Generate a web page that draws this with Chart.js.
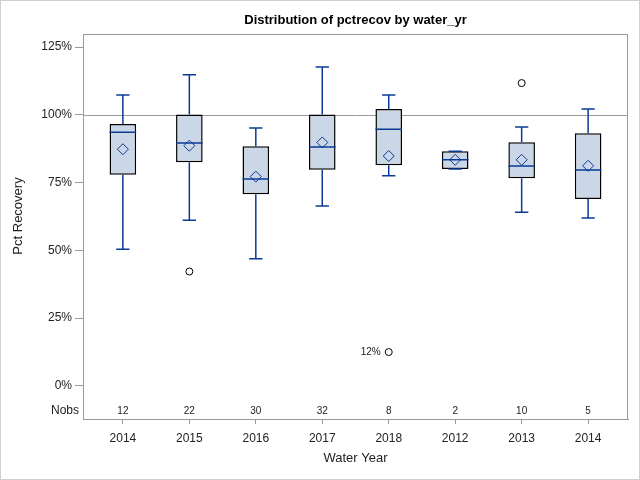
<!DOCTYPE html>
<html>
<head>
<meta charset="utf-8">
<script src="https://cdn.jsdelivr.net/npm/chart.js@4/dist/chart.umd.min.js"></script>
<style>
body { margin: 0; background: #fff; }
</style>
</head>
<body>
<canvas id="grafico" width="640" height="480"></canvas>
<script>
// valores (em %)
var anos = ['2014', '2015', '2016', '2017', '2018', '2012', '2013', '2014']
var nobs = [12, 22, 30, 32, 8, 2, 10, 5]
var minimos = [50.4, 61.1, 46.9, 66.4, 77.5, 80.0, 64.1, 61.9]
var q1 = [77.9, 82.5, 70.7, 79.7, 81.4, 80.0, 76.6, 68.9]
var medianas = [93.6, 89.6, 76.3, 88.1, 94.7, 83.4, 81.1, 79.6]
var q3 = [96.6, 100.1, 88.4, 100.1, 102.1, 86.6, 89.9, 93.2]
var maximos = [107.3, 114.8, 95.1, 117.6, 107.3, 86.6, 95.5, 102.1]
var medias = [87.3, 88.6, 77.2, 89.8, 84.8, 83.4, 83.4, 81.2]
var outliersX = [1, 4, 6]
var outliersY = [42.2, 12.5, 111.7]
var outliersTexto = ['', '12%', '']
var ticksY = [0, 25, 50, 75, 100, 125]
var linhaRef = 100

var azul = '#0b3a96'
var cinza = '#9a9a9a'
var fonte = '"Liberation Sans", Arial, sans-serif'

var caixas = []
var bigodes = []
var pontosMedia = []
var pontosOut = []

function montardados(){
    for (var i = 0; i < anos.length; i++) {
        caixas.push({x: i, y: [q1[i], q3[i]]})
        // bigode de cima e de baixo
        bigodes.push({x: i, y: q3[i]}, {x: i, y: maximos[i]}, {x: i, y: null})
        bigodes.push({x: i, y: q1[i]}, {x: i, y: minimos[i]}, {x: i, y: null})
        // tampas
        bigodes.push({x: i - 0.1, y: maximos[i]}, {x: i + 0.1, y: maximos[i]}, {x: i, y: null})
        bigodes.push({x: i - 0.1, y: minimos[i]}, {x: i + 0.1, y: minimos[i]}, {x: i, y: null})
        // mediana
        bigodes.push({x: i - 0.2, y: medianas[i]}, {x: i + 0.2, y: medianas[i]}, {x: i, y: null})
        pontosMedia.push({x: i, y: medias[i]})
    }
    outliersX.forEach(function(x, k){
        pontosOut.push({x: x, y: outliersY[k]})
    })
}

var extras = {
    id: 'extras',
    beforeDraw: function(chart){
        var ctx = chart.ctx
        ctx.save()
        ctx.strokeStyle = '#d0d0d0'
        ctx.lineWidth = 1
        ctx.strokeRect(0.5, 0.5, 639, 479)
        ctx.restore()
    },
    beforeDatasetsDraw: function(chart){
        var ctx = chart.ctx
        var a = chart.chartArea
        var y = Math.round(chart.scales.y.getPixelForValue(linhaRef)) + 0.5
        ctx.save()
        ctx.strokeStyle = cinza
        ctx.lineWidth = 1
        ctx.beginPath()
        ctx.moveTo(a.left, y)
        ctx.lineTo(a.right, y)
        ctx.stroke()
        ctx.restore()
    },
    afterDatasetsDraw: function(chart){
        var ctx = chart.ctx
        var a = chart.chartArea
        var sx = chart.scales.x
        var sy = chart.scales.y
        ctx.save()
        ctx.strokeStyle = cinza
        ctx.lineWidth = 1
        ctx.strokeRect(Math.round(a.left) + 0.5, Math.round(a.top) + 0.5, Math.round(a.right - a.left) - 1, Math.round(a.bottom - a.top))

        ctx.fillStyle = '#222'
        ctx.textBaseline = 'middle'
        ctx.textAlign = 'center'
        ctx.font = '10px ' + fonte
        nobs.forEach(function(n, i){
            ctx.fillText(String(n), sx.getPixelForValue(i), a.bottom - 8)
        })
        ctx.textAlign = 'right'
        ctx.font = '12px ' + fonte
        ctx.fillText('Nobs', a.left - 4, a.bottom - 8)

        ctx.font = '10px ' + fonte
        outliersTexto.forEach(function(t, k){
            if (t) ctx.fillText(t, sx.getPixelForValue(outliersX[k]) - 8, sy.getPixelForValue(outliersY[k]))
        })

        // titulo do eixo y
        ctx.save()
        ctx.translate(18, 216)
        ctx.rotate(-Math.PI / 2)
        ctx.textAlign = 'center'
        ctx.font = '13px ' + fonte
        ctx.fillText('Pct Recovery', 0, 0)
        ctx.restore()

        ctx.font = 'bold 13px ' + fonte
        ctx.textAlign = 'center'
        ctx.fillStyle = '#000'
        ctx.fillText('Distribution of pctrecov by water_yr', (a.left + a.right) / 2, 20)
        ctx.restore()
    }
}

var grafico
function gerargrafico(){
    var ctx = document.getElementById('grafico').getContext('2d')
    grafico = new Chart(ctx, {
        data: {
            datasets: [
                {
                    type: 'scatter',
                    data: pontosOut,
                    pointStyle: 'circle',
                    pointRadius: 3.5,
                    pointBorderColor: '#000',
                    pointBackgroundColor: 'rgba(0,0,0,0)',
                    pointBorderWidth: 1,
                    order: 0
                },
                {
                    type: 'scatter',
                    data: pontosMedia,
                    pointStyle: 'rectRot',
                    pointRadius: 5.5,
                    pointBorderColor: azul,
                    pointBackgroundColor: 'rgba(0,0,0,0)',
                    pointBorderWidth: 1,
                    order: 0
                },
                {
                    type: 'line',
                    data: bigodes,
                    borderColor: azul,
                    borderWidth: 1.5,
                    pointRadius: 0,
                    spanGaps: false,
                    tension: 0,
                    order: 1
                },
                {
                    type: 'bar',
                    data: caixas,
                    backgroundColor: '#cbd6e6',
                    borderColor: '#000',
                    borderWidth: 1.5,
                    borderSkipped: false,
                    barPercentage: 0.4,
                    categoryPercentage: 1,
                    order: 2
                }
            ]
        },
        options: {
            responsive: false,
            animation: false,
            layout: { padding: { left: 0, right: 12, top: 34, bottom: 0 } },
            plugins: {
                legend: { display: false },
                tooltip: { enabled: false },
                title: { display: false }
            },
            scales: {
                x: {
                    type: 'linear',
                    offset: false,
                    min: -0.6,
                    max: 7.6,
                    afterBuildTicks: function(s){ s.ticks = anos.map(function(_, i){ return {value: i} }) },
                    afterFit: function(s){ s.height = 61 },
                    grid: { offset: false, drawOnChartArea: false, color: cinza, tickLength: 5 },
                    border: { color: cinza },
                    ticks: {
                        padding: 7,
                        color: '#222',
                        font: { family: fonte, size: 12 },
                        maxRotation: 0,
                        autoSkip: false,
                        callback: function(v){ return anos[v] }
                    },
                    title: {
                        display: true,
                        text: 'Water Year',
                        color: '#222',
                        font: { family: fonte, size: 13 },
                        padding: { top: 0, bottom: 14 }
                    }
                },
                y: {
                    min: -12.2,
                    max: 129.8,
                    afterBuildTicks: function(s){ s.ticks = ticksY.map(function(v){ return {value: v} }) },
                    afterFit: function(s){ s.width = 83 },
                    grid: { drawOnChartArea: false, color: cinza, tickLength: 8 },
                    border: { color: cinza },
                    ticks: {
                        padding: 3,
                        color: '#222',
                        font: { family: fonte, size: 12 },
                        callback: function(v){ return v + '%' }
                    }
                }
            }
        },
        plugins: [extras]
    })
}

montardados()
gerargrafico()
</script>
</body>
</html>
